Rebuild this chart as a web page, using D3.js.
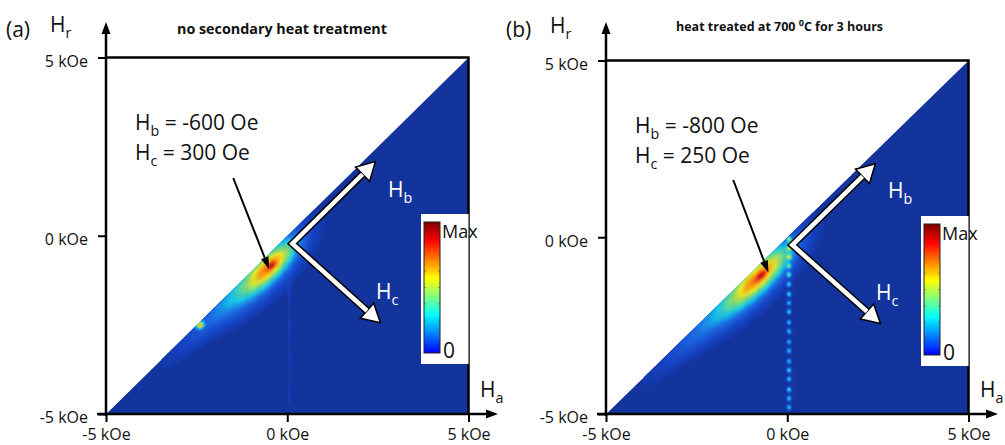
<!DOCTYPE html>
<html>
<head>
<meta charset="utf-8">
<script src="https://cdn.jsdelivr.net/npm/d3@7"></script>
<style>
  body { margin: 0; background: #fff; }
  svg { display: block; font-family: "Open Sans", "DejaVu Sans", sans-serif; }
</style>
</head>
<body>
<svg id="chart" width="1005" height="445"></svg>
<script>
// axis ticks, kOe
const ticks = [-5, 0, 5]
const panelNames = ["(a)", "(b)"]
const titles = ["no secondary heat treatment", "heat treated at 700 "]
const hbText = ["-600 Oe", "-800 Oe"]
const hcText = ["300 Oe", "250 Oe"]

// FORC peaks: [Hc, Hb, sigmaC, sigmaB, amplitude], kOe
const peaksA = [
  [0.20, -0.62, 0.04, 0.07, 0.25],
  [0.19, -0.66, 0.13, 0.38, 0.58],
  [0.16, -0.90, 0.25, 0.70, 0.30],
  [0.10, -1.90, 0.16, 0.90, 0.10],
  [0.05, -2.45, 0.04, 0.05, 0.70]
]
const peaksB = [
  [0.18, -0.88, 0.04, 0.09, 0.25],
  [0.17, -0.93, 0.14, 0.46, 0.60],
  [0.15, -1.15, 0.25, 0.80, 0.30],
  [0.10, -2.30, 0.16, 0.95, 0.10]
]

// ridge along Ha = 0: [Hr, amplitude, sigmaHr]
const ridgeA = [
  [-1.6, 0.03, 0.35], [-2.6, 0.035, 0.35], [-3.5, 0.03, 0.3], [-4.4, 0.035, 0.3]
]
const ridgeB = [
  [-0.05, 0.42, 0.05], [-0.30, 0.36, 0.05], [-0.55, 0.40, 0.05], [-0.80, 0.32, 0.05],
  [-1.05, 0.37, 0.05], [-1.32, 0.30, 0.05], [-1.60, 0.35, 0.05], [-1.85, 0.28, 0.05],
  [-2.10, 0.33, 0.05], [-2.40, 0.28, 0.05], [-2.65, 0.32, 0.05], [-2.95, 0.27, 0.05],
  [-3.20, 0.31, 0.05], [-3.50, 0.28, 0.05], [-3.75, 0.35, 0.05], [-4.00, 0.31, 0.05],
  [-4.30, 0.36, 0.05], [-4.55, 0.32, 0.05], [-4.80, 0.30, 0.05]
]

const peaks = [peaksA, peaksB]
const ridges = [ridgeA, ridgeB]

// colorbar (jet) and map colours
const jetStops = [[0, "#0000ff"], [0.29, "#00ffff"], [0.57, "#ffff00"], [0.857, "#ff0000"], [1, "#800000"]]
const heatDomain = [0, 0.04, 0.12, 0.22, 0.35, 0.52, 0.68, 0.85, 1]
const heatRange = ["#13349c", "#1844c4", "#1f6fe6", "#18c8ea", "#6edc8a", "#eaea28", "#ff9a10", "#f02c10", "#900000"]

const bg = "#13349c"
const step = 0.03

const svg = d3.select("#chart")
const defs = svg.append("defs")

const grad = defs.append("linearGradient").attr("id", "jet")
  .attr("x1", 0).attr("y1", 1).attr("x2", 0).attr("y2", 0)
jetStops.forEach(s => grad.append("stop").attr("offset", s[0]).attr("stop-color", s[1]))

const heat = d3.scaleLinear().domain(heatDomain).range(heatRange).clamp(true)

function density(ha, hr, pk, rd) {
  let hc = (ha - hr) / 2, hb = (ha + hr) / 2
  let v = 0
  pk.forEach(p => {
    let a = (hc - p[0]) / p[2], b = (hb - p[1]) / p[3]
    v += p[4] * Math.exp(-0.5 * (a * a + b * b))
  })
  rd.forEach(r => {
    let a = (ha - 0.05) / 0.04, b = (hr - r[0]) / r[2]
    v += r[1] * Math.exp(-0.5 * (a * a + b * b))
  })
  return v
}

function arrowHead(x0, y0, x1, y1, w, l) {
  let dx = x1 - x0, dy = y1 - y0, len = Math.hypot(dx, dy)
  let ux = dx / len, uy = dy / len, nx = -uy, ny = ux
  let bx = x1 - ux * l, by = y1 - uy * l
  return [[bx + nx * w / 2, by + ny * w / 2], [x1, y1], [bx - nx * w / 2, by - ny * w / 2]]
}

function subText(g, x, y, main, sub, rest, size, fill) {
  let t = g.append("text").attr("x", x).attr("y", y)
    .attr("font-size", size).attr("fill", fill)
  t.append("tspan").text(main)
  t.append("tspan").attr("dy", size * 0.3).attr("font-size", size * 0.68).text(sub)
  if (rest) t.append("tspan").attr("dy", -size * 0.3).text(rest)
  return t
}

const panelDx = [0, 500]
const panelTop = [57.5, 60.5]

panelNames.forEach((name, i) => {
  const g = svg.append("g").attr("transform", `translate(${panelDx[i]},0)`)
  const x = d3.scaleLinear().domain([-5, 5]).range([106, 468.5])
  const y = d3.scaleLinear().domain([-5, 5]).range([414, panelTop[i]])

  // triangle Hr <= Ha
  const tri = [[x(-5), y(-5)], [x(5), y(5)], [x(5), y(-5)]]
  defs.append("clipPath").attr("id", "clip" + i)
    .append("polygon").attr("points", tri.map(p => p.join(",")).join(" "))

  const map = g.append("g").attr("clip-path", `url(#clip${i})`)
  map.append("polygon").attr("points", tri.map(p => p.join(",")).join(" ")).attr("fill", bg)

  let cells = []
  let vmax = 0
  for (let ha = -5 + step / 2; ha < 5; ha += step) {
    for (let hr = -5 + step / 2; hr < ha + step; hr += step) {
      let v = density(ha, hr, peaks[i], ridges[i])
      if (v > vmax) vmax = v
      cells.push({ ha, hr, v })
    }
  }
  cells.forEach(c => c.v = c.v / vmax * 0.92)
  cells = cells.filter(c => c.v > 0.015)

  const cw = x(step) - x(0) + 0.4, ch = y(0) - y(step) + 0.4
  map.selectAll("rect.cell").data(cells).enter().append("rect")
    .attr("class", "cell")
    .attr("x", d => x(d.ha - step / 2))
    .attr("y", d => y(d.hr + step / 2))
    .attr("width", cw).attr("height", ch)
    .attr("fill", d => heat(d.v))

  // frame
  g.append("path")
    .attr("d", `M${x(-5)},${y(5)}H${x(5)}V${y(-5)}`)
    .attr("fill", "none").attr("stroke", "#000").attr("stroke-width", 2.5)

  // axes
  const xAxis = d3.axisBottom(x).tickValues(ticks).tickFormat(d => d + " kOe")
    .tickSizeInner(8).tickSizeOuter(0).tickPadding(7)
  const gx = g.append("g").attr("transform", `translate(0,${y(-5)})`).call(xAxis)
  const yAxis = d3.axisLeft(y).tickValues(ticks).tickFormat(d => d + " kOe")
    .tickSizeInner(8).tickSizeOuter(0).tickPadding(10)
  const gy = g.append("g").attr("transform", `translate(${x(-5)},0)`).call(yAxis)
  ;[gx, gy].forEach(a => {
    a.select(".domain").remove()
    a.selectAll(".tick line").attr("stroke", "#000").attr("stroke-width", 2)
    a.selectAll(".tick text").attr("font-size", 16).attr("fill", "#111")
      .attr("font-family", "Open Sans, sans-serif")
  })
  gy.selectAll(".tick text").attr("dy", "0.55em")

  g.append("line").attr("x1", x(-5) - 9).attr("x2", 490).attr("y1", y(-5)).attr("y2", y(-5))
    .attr("stroke", "#000").attr("stroke-width", 2.5)
  g.append("polygon").attr("points", arrowHead(480, y(-5), 498, y(-5), 9, 12).map(p => p.join(",")).join(" "))
  g.append("line").attr("x1", x(-5)).attr("x2", x(-5)).attr("y1", y(-5) + 2).attr("y2", 32)
    .attr("stroke", "#000").attr("stroke-width", 2.5)
  g.append("polygon").attr("points", arrowHead(x(-5), 40, x(-5), 22, 9, 12).map(p => p.join(",")).join(" "))

  // white Hb / Hc arrows
  const corner = [x(0.14), y(-0.22)]
  const tipB = [x(2.43), y(2.08)], tipC = [x(2.57), y(-2.44)]
  const headB = arrowHead(corner[0], corner[1], tipB[0], tipB[1], 20, 18)
  const headC = arrowHead(corner[0], corner[1], tipC[0], tipC[1], 20, 18)
  const baseB = [(headB[0][0] + headB[2][0]) / 2, (headB[0][1] + headB[2][1]) / 2]
  const baseC = [(headC[0][0] + headC[2][0]) / 2, (headC[0][1] + headC[2][1]) / 2]
  const shaft = `M${baseB}L${corner}L${baseC}`
  g.append("path").attr("d", shaft).attr("fill", "none").attr("stroke", "#000")
    .attr("stroke-width", 7.5).attr("stroke-linejoin", "miter")
  ;[headB, headC].forEach(h => g.append("polygon")
    .attr("points", h.map(p => p.join(",")).join(" "))
    .attr("fill", "#fff").attr("stroke", "#000").attr("stroke-width", 1.5).attr("stroke-linejoin", "miter"))
  g.append("path").attr("d", shaft).attr("fill", "none").attr("stroke", "#fff")
    .attr("stroke-width", 4.5).attr("stroke-linejoin", "miter")

  subText(g, 388, 197 + i, "H", "b", null, 21, "#fff")
  subText(g, 376, 299 + i, "H", "c", null, 21, "#fff")

  // annotation
  subText(g, 135, 130 + i * 3, "H", "b", " = " + hbText[i], 21, "#111")
  subText(g, 135, 160 + i * 3, "H", "c", " = " + hcText[i], 21, "#111")
  const a0 = [x(-1.49), y(1.62)], a1 = i === 0 ? [x(-0.5), y(-0.93)] : [x(-0.52), y(-1.0)]
  const ah = arrowHead(a0[0], a0[1], a1[0], a1[1], 8, 12)
  g.append("line").attr("x1", a0[0]).attr("y1", a0[1])
    .attr("x2", (ah[0][0] + ah[2][0]) / 2).attr("y2", (ah[0][1] + ah[2][1]) / 2)
    .attr("stroke", "#000").attr("stroke-width", 2)
  g.append("polygon").attr("points", ah.map(p => p.join(",")).join(" ")).attr("fill", "#000")

  // colour bar
  const bx = x(5) - 47.5, by = 214 + i * 2
  g.append("rect").attr("x", bx).attr("y", by).attr("width", 47.5).attr("height", 150).attr("fill", "#fff")
  const cb = { x: bx + 3, y: by + 8, w: 16, h: 131 }
  g.append("rect").attr("x", cb.x).attr("y", cb.y).attr("width", cb.w).attr("height", cb.h)
    .attr("fill", "url(#jet)").attr("stroke", "#222").attr("stroke-width", 1)
  d3.range(1, 8).forEach(k => {
    const ty = cb.y + cb.h * k / 8
    g.append("line").attr("x1", cb.x).attr("x2", cb.x + 2).attr("y1", ty).attr("y2", ty).attr("stroke", "#555").attr("stroke-width", 0.6)
    g.append("line").attr("x1", cb.x + cb.w - 2).attr("x2", cb.x + cb.w).attr("y1", ty).attr("y2", ty).attr("stroke", "#555").attr("stroke-width", 0.6)
  })
  g.append("text").attr("x", cb.x + cb.w + 2).attr("y", cb.y + 16).attr("font-size", 18).attr("fill", "#111").text("Max")
  g.append("text").attr("x", cb.x + cb.w + 3).attr("y", cb.y + cb.h + 5).attr("font-size", 21).attr("fill", "#111").text("0")

  // labels
  g.append("text").attr("x", 6).attr("y", 37).attr("font-size", 21).attr("fill", "#111").text(name)
  subText(g, 50, 32 + i, "H", "r", null, 21, "#111")
  subText(g, 480, 397, "H", "a", null, 21, "#111")
})

// titles
svg.append("text").attr("x", 177).attr("y", 34).attr("font-size", 14).attr("font-weight", "bold")
  .attr("textLength", 210).attr("lengthAdjust", "spacingAndGlyphs").attr("fill", "#111").text(titles[0])
const t2 = svg.append("text").attr("x", 676).attr("y", 31).attr("font-size", 12.5).attr("font-weight", "bold").attr("fill", "#111")
t2.append("tspan").text(titles[1])
t2.append("tspan").attr("dy", -5).attr("font-size", 9).text("0")
t2.append("tspan").attr("dy", 5).text("C for 3 hours")
</script>
</body>
</html>
